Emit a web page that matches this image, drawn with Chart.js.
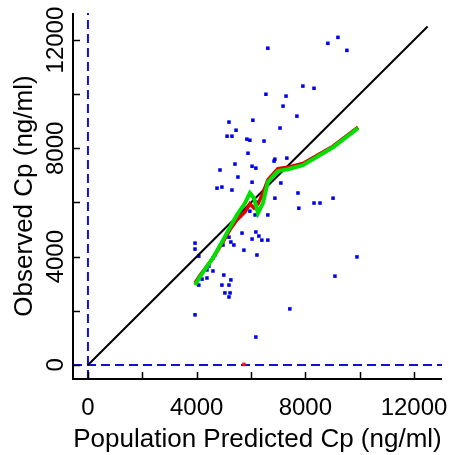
<!DOCTYPE html>
<html lang="en">
<head>
  <meta charset="UTF-8" />
  <title>Observed vs Population Predicted Cp</title>
  <script src="https://cdn.jsdelivr.net/npm/chart.js"></script>
  <style>
    html, body { margin: 0; padding: 0; background: #fff; overflow: hidden; }
    canvas { display: block; }
  </style>
</head>
<body>
  <canvas id="chart" width="449" height="455"></canvas>

  <script>
    // observations: population predicted vs observed (ng/ml)
    const predCp = [6620, 6550, 7290, 7180, 7690, 5190, 6070, 5450, 5120, 5300,
      5850, 5960, 6480, 7070, 5890, 6880, 6850, 7320, 5410, 6040,
      6180, 4860, 5520, 6040, 7100, 4750, 4930, 5300, 7730, 6880,
      7760, 6220, 5960, 6150, 6620, 5670, 6180, 6290, 6040, 6400,
      6620, 5740, 6220, 4970, 5190, 5260, 5370, 3940, 3940, 4080,
      4670, 4600, 4450, 4380, 4600, 4200, 4380, 4080, 5000, 5260,
      4930, 5190, 5040, 5230, 5190, 7430, 3940, 6180, 8830, 9200,
      9530, 7910, 8320, 8320, 8540, 9020, 9900, 9090];
    const obsCp = [11700, 10000, 9930, 9560, 9190, 8970, 9040, 8670, 8450, 8450,
      8340, 8300, 8270, 8750, 7820, 7600, 7530, 7640, 7420, 7340,
      7270, 7200, 6940, 6750, 6720, 6530, 6570, 6460, 6350, 6160,
      5790, 6010, 5680, 5540, 5540, 4870, 4910, 4760, 4650, 4610,
      4610, 4240, 4060, 4430, 4720, 4540, 4430, 4500, 4280, 4020,
      4060, 3950, 3650, 3510, 3470, 3170, 3210, 2950, 3320, 3140,
      2950, 2950, 2660, 2660, 2510, 2070, 1850, 1030, 11880, 12100,
      11620, 10300, 10220, 5980, 5980, 6160, 3990, 3280];

    // smooth curves
    const smoothX = [3940, 4120, 4600, 4970, 5230, 5480, 5780, 5960, 6110, 6260,
      6440, 6620, 6990, 7360, 7910, 9020, 9940];
    const greenY = [2950, 3250, 3950, 4610, 5090, 5535, 5980, 6350, 6160, 5610,
      5980, 6750, 7160, 7230, 7380, 8040, 8750];
    const redY = [3030, 3300, 3950, 4550, 5000, 5350, 5650, 5950, 5800, 5950,
      6350, 6830, 7250, 7300, 7440, 8080, 8780];

    // single red point on the zero line
    const redPoint = [{ x: 5740, y: 20 }];

    const tickValues = [0, 2000, 4000, 6000, 8000, 10000, 12000];
    const tickLabels = ['0', '', '4000', '', '8000', '', '12000'];
    const xTitle = 'Population Predicted Cp (ng/ml)';
    const yTitle = 'Observed Cp (ng/ml)';

    const toXY = (xs, ys) => xs.map((x, i) => ({ x: x, y: ys[i] }));

    const axesPlugin = {
      id: 'rAxes',
      afterDraw(chart) {
        const c = chart.ctx;
        const xs = chart.scales.x, ys = chart.scales.y;
        const a = chart.chartArea;
        c.save();
        c.strokeStyle = '#000';
        c.lineWidth = 2;
        c.beginPath();
        c.moveTo(a.left, a.top);
        c.lineTo(a.left, a.bottom);
        c.lineTo(a.right, a.bottom);
        c.stroke();

        c.lineWidth = 1.5;
        c.beginPath();
        tickValues.forEach(v => {
          const px = Math.round(xs.getPixelForValue(v)) + 0.5;
          c.moveTo(px, a.bottom);
          c.lineTo(px, a.bottom - 7);
          const py = Math.round(ys.getPixelForValue(v)) + 0.5;
          c.moveTo(a.left, py);
          c.lineTo(a.left + 7, py);
        });
        c.stroke();

        c.fillStyle = '#000';
        c.font = '24px "Liberation Sans", Arial, sans-serif';
        c.textAlign = 'center';
        c.textBaseline = 'alphabetic';
        tickValues.forEach((v, i) => {
          if (!tickLabels[i]) return;
          c.fillText(tickLabels[i], xs.getPixelForValue(v), 415);
          c.save();
          c.translate(63, ys.getPixelForValue(v));
          c.rotate(-Math.PI / 2);
          c.fillText(tickLabels[i], 0, 0);
          c.restore();
        });

        c.font = '26px "Liberation Sans", Arial, sans-serif';
        c.fillText(xTitle, (a.left + a.right) / 2, 447);
        c.save();
        c.translate(32, (a.top + a.bottom) / 2);
        c.rotate(-Math.PI / 2);
        c.fillText(yTitle, 0, 0);
        c.restore();
        c.restore();
      }
    };

    const ctx = document.getElementById('chart').getContext('2d');

    const chart = new Chart(ctx, {
      type: 'scatter',
      data: {
        datasets: [
          {
            label: 'red point',
            data: redPoint,
            pointStyle: 'rect',
            pointRadius: 2.5,
            backgroundColor: '#ff1010',
            borderWidth: 0
          },
          {
            label: 'smooth (green)',
            data: toXY(smoothX, greenY),
            showLine: true,
            borderColor: '#00e000',
            borderWidth: 4,
            pointRadius: 0,
            tension: 0
          },
          {
            label: 'smooth (red)',
            data: toXY(smoothX, redY),
            showLine: true,
            borderColor: '#e00000',
            borderWidth: 3.5,
            pointRadius: 0,
            tension: 0
          },
          {
            label: 'identity',
            data: [{ x: 0, y: 0 }, { x: 12500, y: 12500 }],
            showLine: true,
            borderColor: '#000',
            borderWidth: 2,
            pointRadius: 0
          },
          {
            label: 'x zero',
            data: [{ x: 0, y: -520 }, { x: 0, y: 13000 }],
            showLine: true,
            borderColor: '#1010d8',
            borderWidth: 2,
            borderDash: [9, 5],
            pointRadius: 0
          },
          {
            label: 'y zero',
            data: [{ x: -550, y: 0 }, { x: 13030, y: 0 }],
            showLine: true,
            borderColor: '#1010d8',
            borderWidth: 2,
            borderDash: [9, 5],
            pointRadius: 0
          },
          {
            label: 'observed',
            data: toXY(predCp, obsCp),
            pointStyle: 'rect',
            pointRadius: 2.5,
            backgroundColor: '#0000ee',
            borderWidth: 0
          }
        ]
      },
      options: {
        responsive: false,
        animation: false,
        events: [],
        layout: { padding: { left: 73, right: 7, top: 13, bottom: 76 } },
        plugins: { legend: { display: false }, tooltip: { enabled: false } },
        scales: {
          x: { type: 'linear', min: -550, max: 13030, display: false },
          y: { type: 'linear', min: -520, max: 13000, display: false }
        }
      },
      plugins: [axesPlugin]
    });
  </script>
</body>
</html>
